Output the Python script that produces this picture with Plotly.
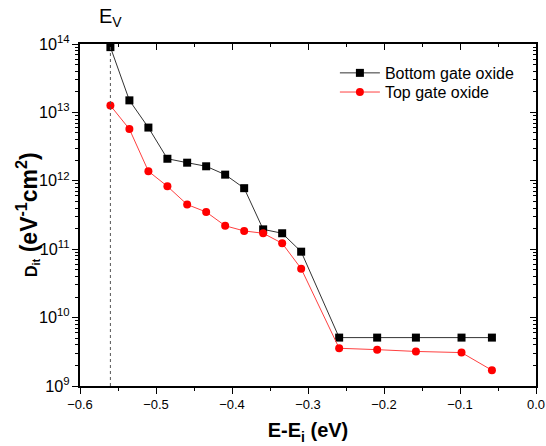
import plotly.graph_objects as go

x_vals = [-0.56, -0.535, -0.51, -0.485, -0.459, -0.434, -0.409, -0.384, -0.359,
          -0.334, -0.309, -0.259, -0.209, -0.158, -0.098, -0.058]
bottom_dit = [9.0e13, 1.5e13, 6.0e12, 2.1e12, 1.84e12, 1.63e12, 1.23e12, 7.8e11, 1.95e11,
              1.71e11, 9.2e10, 5.1e9, 5.1e9, 5.1e9, 5.1e9, 5.1e9]
top_dit = [1.26e13, 5.7e12, 1.38e12, 8.3e11, 4.5e11, 3.5e11, 2.2e11, 1.85e11, 1.71e11,
           1.22e11, 5.2e10, 3.56e9, 3.4e9, 3.2e9, 3.08e9, 1.7e9]
ev_position = -0.56
series_names = ["Bottom gate oxide", "Top gate oxide"]

FONT = "Arial, Liberation Sans, sans-serif"

fig = go.Figure()
fig.add_trace(go.Scatter(x=x_vals, y=bottom_dit, mode="lines+markers", name=series_names[0],
                         legend="legend",
                         line=dict(color="#333333", width=1),
                         marker=dict(symbol="square", size=8, color="#000000")))
fig.add_trace(go.Scatter(x=x_vals, y=top_dit, mode="lines+markers", name=series_names[1],
                         legend="legend2",
                         line=dict(color="#ff4040", width=1),
                         marker=dict(symbol="circle", size=8, color="#ff0000")))

fig.add_shape(type="line", xref="x", yref="paper", x0=ev_position, x1=ev_position, y0=0, y1=1,
              line=dict(color="#555555", width=1, dash="dot"))
fig.add_annotation(x=ev_position, xref="x", y=1.0, yref="paper", yshift=12, yanchor="bottom",
                   text="E<sub>V</sub>", showarrow=False,
                   font=dict(family=FONT, size=20, color="black"))
# y-axis title as rotated annotation
fig.add_annotation(x=-0.116, xref="paper", y=0.5, yref="paper", xanchor="center", yanchor="middle",
                   textangle=-90, showarrow=False,
                   text="<b><span style='font-size:16px'>D<sub>it</sub></span> (eV<sup>-1</sup>cm<sup>2</sup>)</b>",
                   font=dict(family=FONT, size=23, color="black"))

legend_common = dict(xanchor="left", yanchor="top", bgcolor="rgba(0,0,0,0)",
                     font=dict(family=FONT, size=16, color="black"), itemwidth=40)

fig.update_layout(
    width=546, height=446,
    margin=dict(l=80, r=10, t=44, b=60),
    paper_bgcolor="white", plot_bgcolor="white",
    font=dict(family=FONT, size=13, color="black"),
    showlegend=True,
    legend=dict(x=0.559, y=0.965, **legend_common),
    legend2=dict(x=0.559, y=0.909, **legend_common),
    xaxis=dict(range=[-0.6, 0.0], dtick=0.1, tickformat=".1f", showgrid=False, zeroline=False,
               automargin=False,
               showline=True, linecolor="black", linewidth=1.5, ticks="outside", ticklen=6,
               tickwidth=1, tickcolor="black",
               minor=dict(dtick=0.05, ticks="outside", ticklen=3, tickcolor="black"),
               title=dict(text="<b>E-E<sub>i</sub> (eV)</b>", font=dict(family=FONT, size=20), standoff=12),
               tickfont=dict(family=FONT, size=13)),
    yaxis=dict(type="log", range=[9, 14], dtick=1, exponentformat="power", showgrid=False,
               zeroline=False, showline=True, linecolor="black", linewidth=1.5, automargin=False,
               ticks="outside", ticklen=6, tickwidth=1, tickcolor="black",
               minor=dict(dtick="D1", ticks="outside", ticklen=3, tickcolor="black"),
               tickfont=dict(family=FONT, size=13)),
    xaxis2=dict(overlaying="x", side="top", range=[-0.6, 0.0], dtick=0.1, showticklabels=False,
                showgrid=False, zeroline=False, showline=True, linecolor="black", linewidth=1.5,
                automargin=False,
                ticks="inside", ticklen=6, tickcolor="black",
                minor=dict(dtick=0.05, ticks="inside", ticklen=3, tickcolor="black")),
    yaxis2=dict(overlaying="y", side="right", type="log", range=[9, 14], dtick=1,
                showticklabels=False, showgrid=False, zeroline=False, showline=True,
                automargin=False,
                linecolor="black", linewidth=1.5, ticks="inside", ticklen=6, tickcolor="black",
                minor=dict(dtick="D1", ticks="inside", ticklen=3, tickcolor="black")),
)
# invisible trace to activate the mirrored axes
fig.add_trace(go.Scatter(x=[x_vals[0]], y=[bottom_dit[0]], xaxis="x2", yaxis="y2",
                         mode="markers", marker=dict(opacity=0), showlegend=False, hoverinfo="skip"))

fig.write_html("out.html")
